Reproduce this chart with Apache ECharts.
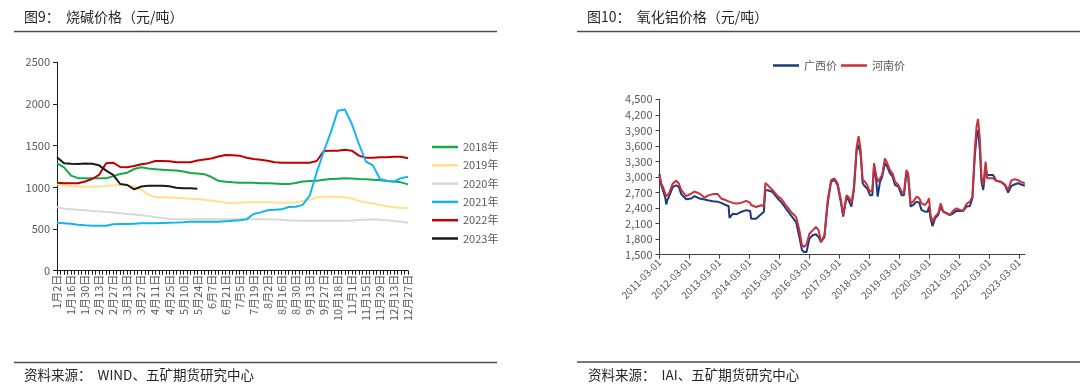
<!DOCTYPE html>
<html><head><meta charset="utf-8">
<script src="https://cdn.jsdelivr.net/npm/echarts@6/dist/echarts.min.js"></script>
<style>html,body{margin:0;padding:0;background:#fff}#c{width:1080px;height:391px}</style>
</head><body><div id="c"></div>
<script>
// ---------- Left chart: 烧碱价格 (weekly samples, labels every 2 weeks) ----------
const weekLabels = ['1月2日','1月9日','1月16日','1月23日','1月30日','2月6日','2月13日','2月20日','2月27日','3月6日',
  '3月13日','3月20日','3月27日','4月3日','4月11日','4月18日','4月25日','5月3日','5月10日','5月17日',
  '5月24日','5月31日','6月7日','6月14日','6月21日','6月28日','7月5日','7月12日','7月19日','7月26日',
  '8月2日','8月9日','8月16日','8月23日','8月30日','9月6日','9月13日','9月20日','9月27日','10月11日',
  '10月18日','10月25日','11月1日','11月8日','11月15日','11月22日','11月29日','12月6日','12月13日','12月20日','12月27日'];
const yearNames = ['2018年','2019年','2020年','2021年','2022年','2023年'];
const s2018 = [1288,1240,1140,1110,1108,1108,1108,1108,1135,1160,1176,1220,1240,1226,1218,1210,1206,1202,1190,1172,
  1166,1158,1124,1078,1066,1060,1056,1056,1056,1048,1048,1046,1040,1040,1052,1070,1076,1078,1092,1100,
  1104,1108,1106,1100,1096,1090,1084,1076,1070,1060,1036];
const s2019 = [1036,1024,1012,1008,1008,1008,1010,1016,1024,1028,1028,1006,970,910,882,880,878,876,870,864,
  860,850,838,830,816,808,814,820,820,820,820,818,816,816,818,836,850,880,888,888,
  888,882,866,840,818,806,788,774,762,754,748];
const s2020 = [760,745,738,730,725,716,710,704,698,690,680,674,666,656,642,632,624,618,616,616,
  616,616,616,616,616,616,616,616,616,616,616,614,612,606,602,600,600,600,600,600,
  600,600,602,608,612,616,610,604,596,588,576];
const s2021 = [576,570,562,550,544,540,540,540,556,560,560,564,568,568,568,572,576,578,582,588,
  588,588,588,588,594,600,606,616,680,700,726,732,736,764,768,790,900,1180,1430,1660,
  1920,1935,1760,1520,1310,1264,1100,1080,1068,1110,1128];
const s2022 = [1056,1050,1048,1048,1070,1100,1150,1290,1296,1244,1240,1256,1278,1290,1316,1316,1312,1302,1300,1300,
  1322,1334,1346,1370,1388,1384,1380,1356,1340,1330,1320,1300,1296,1296,1296,1296,1296,1316,1436,1440,
  1440,1450,1440,1380,1356,1356,1360,1362,1366,1368,1348];
const s2023 = [1360,1288,1282,1280,1285,1282,1264,1200,1150,1040,1028,976,1010,1018,1020,1018,1012,994,990,988,982];
const causticSeries = [s2018, s2019, s2020, s2021, s2022, s2023];
const causticColors = ['#16A94B','#FFE08C','#D9D9D9','#14B4EE','#C00000','#1A1A1A'];

// ---------- Right chart: 氧化铝价格 ----------
const aluTickLabels = ['2011-03-01','2012-03-01','2013-03-01','2014-03-01','2015-03-01','2016-03-01','2017-03-01',
  '2018-03-01','2019-03-01','2020-03-01','2021-03-01','2022-03-01','2023-03-01'];
const aluNames = ['广西价','河南价'];
const aluDates = ['2011-03-01','2011-03-21','2011-04-12','2011-05-10','2011-05-22','2011-06-05','2011-06-24','2011-08-10','2011-09-21','2011-10-22',
  '2011-11-21','2012-01-20','2012-03-22','2012-04-30','2012-07-01','2012-08-31','2012-10-10','2012-12-10','2013-02-08','2013-03-22',
  '2013-05-21','2013-06-20','2013-07-01','2013-08-10','2013-09-21','2013-11-20','2014-01-20','2014-03-10','2014-03-22','2014-05-20',
  '2014-07-21','2014-08-24','2014-09-11','2014-10-10','2014-12-10','2015-02-08','2015-03-22','2015-05-21','2015-07-21','2015-09-21',
  '2015-10-31','2015-12-02','2015-12-29','2016-01-26','2016-03-01','2016-04-10','2016-05-20','2016-06-22','2016-07-21','2016-08-31',
  '2016-10-10','2016-11-20','2016-12-30','2017-02-08','2017-03-22','2017-04-17','2017-05-28','2017-07-01','2017-07-26','2017-08-26',
  '2017-09-28','2017-10-22','2017-11-16','2017-12-10','2018-01-08','2018-02-03','2018-03-09','2018-04-07','2018-04-28','2018-05-20',
  '2018-06-11','2018-07-10','2018-08-05','2018-09-07','2018-10-06','2018-11-08','2018-12-10','2019-01-09','2019-02-18','2019-03-30',
  '2019-04-28','2019-05-27','2019-06-18','2019-07-17','2019-08-19','2019-09-28','2019-10-31','2019-11-27','2020-01-10','2020-02-10',
  '2020-02-27','2020-03-17','2020-04-10','2020-05-10','2020-06-18','2020-07-18','2020-08-18','2020-09-28','2020-11-08','2020-12-18',
  '2021-01-27','2021-03-09','2021-04-18','2021-05-29','2021-07-10','2021-08-09','2021-09-07','2021-09-28','2021-10-17','2021-11-08',
  '2021-11-27','2021-12-19','2022-01-17','2022-02-05','2022-03-08','2022-04-18','2022-05-28','2022-07-18','2022-09-08','2022-10-18',
  '2022-11-28','2023-01-10','2023-02-18','2023-03-17','2023-05-10'];
const guangxi = [3060,2850,2745,2600,2470,2560,2615,2810,2840,2810,
  2670,2570,2585,2630,2585,2565,2550,2530,2520,2500,
  2455,2440,2210,2290,2280,2325,2360,2345,2195,2195,
  2280,2330,2745,2745,2710,2585,2520,2390,2260,2130,
  1840,1585,1550,1550,1810,1875,1895,1840,1745,1840,
  2490,2905,2950,2840,2490,2234,2620,2520,2430,2750,
  3520,3620,3425,2880,2815,2780,2650,2650,3200,3005,
  2620,2910,3005,3265,3200,3070,3005,2845,2815,2650,
  2650,3070,3005,2430,2460,2525,2505,2365,2330,2330,
  2430,2200,2050,2200,2266,2430,2330,2300,2266,2300,
  2345,2345,2345,2430,2440,2590,3400,3780,3908,3520,
  2910,2750,3165,3040,3040,3040,2925,2910,2845,2700,
  2830,2860,2880,2860,2830];
const henan = [3020,2880,2810,2680,2630,2640,2680,2875,2930,2875,
  2745,2630,2680,2720,2680,2600,2640,2670,2670,2585,
  2550,2530,2520,2500,2490,2500,2540,2500,2460,2420,
  2455,2440,2885,2840,2745,2630,2585,2455,2325,2230,
  1970,1680,1650,1700,1905,1970,2035,1970,1745,1875,
  2550,2940,2975,2875,2550,2266,2650,2590,2490,2810,
  3585,3790,3520,2940,2910,2845,2715,2750,3265,3070,
  2910,2975,3040,3360,3265,3135,3070,2910,2845,2715,
  2685,3135,3070,2490,2525,2620,2590,2490,2460,2525,
  2590,2266,2137,2234,2300,2490,2330,2300,2266,2350,
  2395,2365,2350,2480,2525,2620,3520,3970,4120,3715,
  3005,2845,3295,2975,2975,2975,2925,2910,2860,2750,
  2940,2955,2940,2910,2880];
const aluColors = ['#1F3A7C','#C7323C'];

// ---------- build ----------
const FONT = '"Noto Sans CJK SC", "Noto Sans", sans-serif';
const T0 = Date.parse('2011-03-01');
const YEAR_MS = 365.25 * 864e5;
const toYears = d => (Date.parse(d) - T0) / YEAR_MS;

const series = [];
causticSeries.forEach((arr, k) => {
  series.push({
    name: yearNames[k], type: 'line', xAxisIndex: 0, yAxisIndex: 0,
    showSymbol: false, symbol: 'none',
    lineStyle: { width: 2, color: causticColors[k] }, itemStyle: { color: causticColors[k] },
    data: arr.map((v, i) => [i, v]), z: 2 + (k === 3 ? 1 : 0)
  });
});
[guangxi, henan].forEach((arr, k) => {
  series.push({
    name: aluNames[k], type: 'line', xAxisIndex: 1, yAxisIndex: 1,
    showSymbol: false, symbol: 'none',
    lineStyle: { width: 2, color: aluColors[k] }, itemStyle: { color: aluColors[k] },
    data: arr.map((v, i) => [toYears(aluDates[i]), v])
  });
});

const labelColor = '#595959';
const halfTicks = []; for (let i = 0; i <= 100; i++) halfTicks.push(i / 2);
const evenWeeks = []; for (let i = 0; i < weekLabels.length; i += 2) evenWeeks.push(i);
const yearTicks = aluTickLabels.map((_, i) => i);

const option = {
  animation: false,
  textStyle: { fontFamily: FONT },
  grid: [
    { left: 57, top: 62.3, width: 351, height: 208.4, containLabel: false },
    { left: 659.5, top: 99.3, width: 365.6, height: 155.4, containLabel: false }
  ],
  legend: [
    { data: yearNames, orient: 'vertical', left: 427, top: 136, icon: 'rect', itemWidth: 26, itemHeight: 2.5,
      itemGap: 6.3, textStyle: { fontSize: 11, color: labelColor, lineHeight: 12, fontFamily: FONT } },
    { data: aluNames, orient: 'horizontal', left: 768, top: 55, icon: 'rect', itemWidth: 26, itemHeight: 2.5,
      itemGap: 4, textStyle: { fontSize: 11, color: labelColor, fontFamily: FONT } }
  ],
  xAxis: [
    { type: 'value', gridIndex: 0, min: 0, max: weekLabels.length - 1,
      splitLine: { show: false },
      axisLine: { lineStyle: { color: '#1a1a1a', width: 1 } },
      axisTick: { show: true, customValues: halfTicks, length: 4, lineStyle: { color: '#1a1a1a' } },
      axisLabel: { customValues: evenWeeks, rotate: 90, fontSize: 11, color: labelColor, margin: 4,
        formatter: v => weekLabels[Math.round(v)] || '' } },
    { type: 'value', gridIndex: 1, min: 0, max: 12.2,
      splitLine: { show: false },
      axisLine: { lineStyle: { color: '#404040', width: 1 } },
      axisTick: { show: true, customValues: yearTicks, length: 4, lineStyle: { color: '#404040' } },
      axisLabel: { customValues: yearTicks, rotate: 45, fontSize: 10, color: labelColor, margin: 6,
        formatter: v => aluTickLabels[Math.round(v)] || '' } }
  ],
  yAxis: [
    { type: 'value', gridIndex: 0, min: 0, max: 2500, interval: 500,
      splitLine: { show: false },
      axisLine: { show: true, lineStyle: { color: '#1a1a1a' } },
      axisTick: { show: true, length: 4, lineStyle: { color: '#1a1a1a' } },
      axisLabel: { fontSize: 11, color: labelColor, margin: 7, formatter: v => String(v) } },
    { type: 'value', gridIndex: 1, min: 1500, max: 4500, interval: 300,
      splitLine: { show: false },
      axisLine: { show: true, lineStyle: { color: '#404040' } },
      axisTick: { show: true, length: 4, lineStyle: { color: '#404040' } },
      axisLabel: { fontSize: 11, color: labelColor, margin: 7,
        formatter: v => v.toLocaleString('en-US') } }
  ],
  graphic: [
    { type: 'text', left: 24, top: 10, style: { text: '图9：  烧碱价格（元/吨）', font: '14px ' + FONT, fill: '#262626' } },
    { type: 'line', shape: { x1: 14, y1: 31.5, x2: 497, y2: 31.5 }, style: { stroke: '#4d4d4d', lineWidth: 1.5 } },
    { type: 'line', shape: { x1: 14, y1: 362.5, x2: 497, y2: 362.5 }, style: { stroke: '#4d4d4d', lineWidth: 1.5 } },
    { type: 'text', left: 24, top: 368, style: { text: '资料来源：  WIND、五矿期货研究中心', font: '13.5px ' + FONT, fill: '#262626' } },
    { type: 'text', left: 587, top: 10, style: { text: '图10：  氧化铝价格（元/吨）', font: '14px ' + FONT, fill: '#262626' } },
    { type: 'line', shape: { x1: 577, y1: 31.5, x2: 1080, y2: 31.5 }, style: { stroke: '#4d4d4d', lineWidth: 1.5 } },
    { type: 'line', shape: { x1: 577, y1: 362, x2: 1080, y2: 362 }, style: { stroke: '#4d4d4d', lineWidth: 1.5 } },
    { type: 'text', left: 588, top: 368, style: { text: '资料来源：  IAI、五矿期货研究中心', font: '13.5px ' + FONT, fill: '#262626' } }
  ],
  series: series
};
const chart = echarts.init(document.getElementById('c'), null, { renderer: 'canvas' });
chart.setOption(option);
</script>
</body></html>
